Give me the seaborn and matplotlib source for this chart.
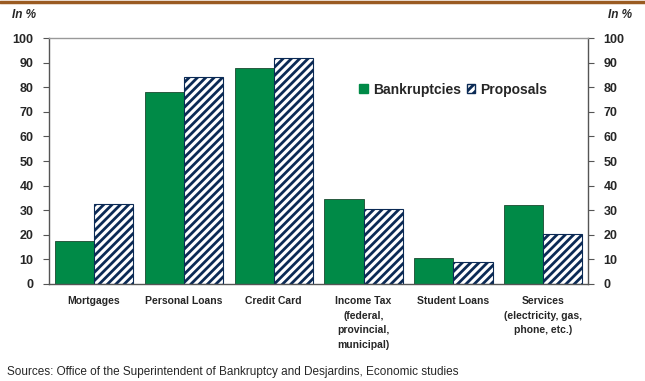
import matplotlib
matplotlib.use("Agg")
import matplotlib.pyplot as plt
import seaborn as sns
import pandas as pd
from matplotlib.patches import Patch
from matplotlib.lines import Line2D

categories = ["Mortgages", "Personal Loans", "Credit Card",
              "Income Tax\n(federal,\nprovincial,\nmunicipal)", "Student Loans",
              "Services\n(electricity, gas,\nphone, etc.)"]
bankruptcies = [17.5, 78, 88, 34.5, 10.5, 32]
proposals = [32.5, 84, 92, 30.5, 9, 20.5]
series = ["Bankruptcies", "Proposals"]
yticks = [0, 10, 20, 30, 40, 50, 60, 70, 80, 90, 100]

sns.set_theme(style="white")
plt.rcParams['font.family'] = ['Liberation Sans', 'DejaVu Sans']
plt.rcParams['hatch.linewidth'] = 2.0
plt.rcParams['hatch.color'] = '#0B2A55'

df = pd.DataFrame({
    "cat": categories * 2,
    "series": [series[0]] * len(categories) + [series[1]] * len(categories),
    "val": bankruptcies + proposals,
})

green = "#008A47"
navy = "#0B2A55"

fig = plt.figure(figsize=(6.45, 3.81), dpi=100)
ax = fig.add_axes([0.076, 0.2546, 0.836, 0.6454])
sns.barplot(data=df, x="cat", y="val", hue="series", palette=[green, "white"],
            width=0.87, gap=0, saturation=1, ax=ax, legend=False)

for bar in ax.containers[0]:
    bar.set_facecolor(green)
    bar.set_edgecolor("#1a4a30")
    bar.set_linewidth(0.6)
for bar in ax.containers[1]:
    bar.set_facecolor("white")
    bar.set_edgecolor(navy)
    bar.set_hatch("////")
    bar.set_linewidth(0.8)

ax.set_ylim(0, 100)
ax.set_xlim(-0.5, len(categories) - 0.5)
ax.set_yticks(yticks)
ax.set_yticklabels([str(t) for t in yticks], fontsize=9, fontweight="bold")
ax.tick_params(axis="y", left=True, right=True, labelleft=True, labelright=True,
               length=4, width=0.8, color="#555555", pad=7)
ax.tick_params(axis="x", bottom=False, length=0, pad=9)
ax.set_xticks(range(len(categories)))
ax.set_xticklabels(categories, fontsize=7.5, fontweight="bold", linespacing=1.55,
                   va="top")
ax.set_xlabel("")
ax.set_ylabel("")
for s in ax.spines.values():
    s.set_color("#555555")
    s.set_linewidth(1.0)
ax.spines["top"].set_color("#999999")

handles = [Patch(facecolor=green, edgecolor=green, label=series[0]),
           Patch(facecolor="white", edgecolor=navy, hatch="////", label=series[1])]
ax.legend(handles=handles, loc="center", bbox_to_anchor=(0.75, 0.79), ncol=2,
          frameon=False, prop={"weight": "bold", "size": 10},
          handlelength=0.6, handleheight=0.6, handletextpad=0.4,
          columnspacing=0.4)

fig.text(12 / 645, 1 - 15 / 381, "In %", fontsize=8.5, fontweight="bold",
         style="italic", ha="left", va="center")
fig.text(632 / 645, 1 - 15 / 381, "In %", fontsize=8.5, fontweight="bold",
         style="italic", ha="right", va="center")
fig.text(7 / 645, 1 - 378 / 381, "Sources: Office of the Superintendent of Bankruptcy and Desjardins, Economic studies",
         fontsize=8.5, ha="left", va="bottom")
fig.add_artist(Line2D([0, 1], [1 - 1.5 / 381, 1 - 1.5 / 381], color="#9A5B22",
                      linewidth=2.5, transform=fig.transFigure))

fig.savefig("out.png", dpi=100)
